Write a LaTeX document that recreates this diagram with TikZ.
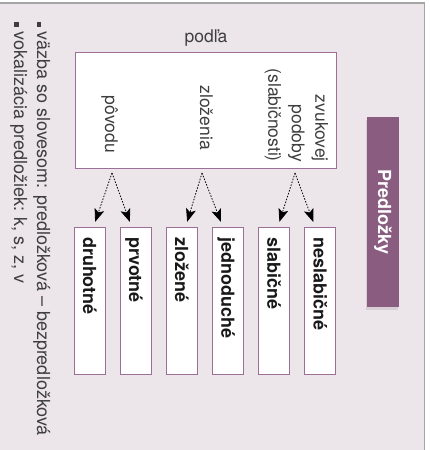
\documentclass[tikz,border=0pt]{standalone}
\usepackage{fontspec}
\setmainfont{TeX Gyre Heros}
\usetikzlibrary{arrows.meta}
\usetikzlibrary{shadows}

\definecolor{backlav}{RGB}{236,229,234}
\definecolor{framegray}{RGB}{165,165,165}
\definecolor{titlepurple}{RGB}{138,92,128}
\definecolor{boxline}{RGB}{156,112,150}
\definecolor{notegray}{RGB}{62,62,62}
\definecolor{leaftext}{RGB}{25,25,25}

\newcommand{\sqbullet}{\rule{4.5pt}{4.5pt}\hspace{5pt}}

\tikzset{
  note/.style={rotate=-90, inner sep=0pt, text=notegray, font=\fontsize{17.5}{23.5}\selectfont},
  sidenote/.style={note, font=\fontsize{18}{23.5}\selectfont},
  leafbox/.style={draw=boxline, fill=white, line width=0.8pt, rotate=-90, minimum height=31pt,
    text width=127pt, inner xsep=10pt, inner ysep=0pt, align=left, text height=13pt, text depth=0pt,
    text=leaftext, font=\bfseries\fontsize{18}{20}\selectfont},
  titlebox/.style={fill=titlepurple, rotate=-90, minimum width=190pt, minimum height=32pt, inner sep=0pt,
    text=white, font=\bfseries\fontsize{18}{20}\selectfont,
    drop shadow={shadow xshift=-1.5pt, shadow yshift=-3pt, opacity=0.2}},
  splitarrow/.style={black, line width=0.8pt, dash pattern=on 1.5pt off 1.5pt,
    -{Stealth[length=13pt, width=10pt, inset=3pt]}, shorten >=5pt}
}

\begin{document}
\begin{tikzpicture}[x=1pt, y=-1pt]
\useasboundingbox (0,0) rectangle (430,450);
% background and frame
\fill[backlav] (0,3) rectangle (424.5,450);
\draw[framegray, line width=1.3pt] (0,3) -- (424.5,3) -- (424.5,450);

% notes on the left
\node[sidenote, anchor=base west] (vazba) at (37,22) {\sqbullet väzba so slovesom: predložková – bezpredložková};
\node[sidenote, anchor=base west] (vokal) at (14,22) {\sqbullet vokalizácia predložiek: k, s, z, v};

% title
\node[titlebox] (predlozky) at (383,212) {Predložky};

% criteria box
\draw[boxline, fill=white, line width=0.8pt] (75,52) rectangle (336,168);
\node[anchor=base, inner sep=0pt, text=notegray, font=\fontsize{17.5}{20}\selectfont] (podla) at (206,42) {podľa};
\node[note, anchor=base east] (povodu) at (105,153) {pôvodu};
\node[note, anchor=base east] (zlozenia) at (200,150) {zloženia};
\node[note, align=right, anchor=east] (zvukovej) at (296.5,162) {zvukovej\\podoby\\(slabičnosti)};

% kinds
\foreach \word [count=\i from 0] in {druhotné,prvotné,zložené,jednoduché,slabičné,neslabičné} {
 \node[leafbox] (leaf\i) at (89.5+46.1*\i,300.5) {\word};
}

% arrows
\coordinate (split0) at (112,173);
\coordinate (split1) at (202,173);
\coordinate (split2) at (295,173);
\draw[splitarrow] (split0) -- ([xshift=4pt]leaf0.west);
\draw[splitarrow] (split0) -- ([xshift=-4pt]leaf1.west);
\draw[splitarrow] (split1) -- ([xshift=4pt]leaf2.west);
\draw[splitarrow] (split1) -- ([xshift=-5pt]leaf3.west);
\draw[splitarrow] (split2) -- ([xshift=4pt]leaf4.west);
\draw[splitarrow] (split2) -- ([xshift=-5pt]leaf5.west);
\end{tikzpicture}
\end{document}
